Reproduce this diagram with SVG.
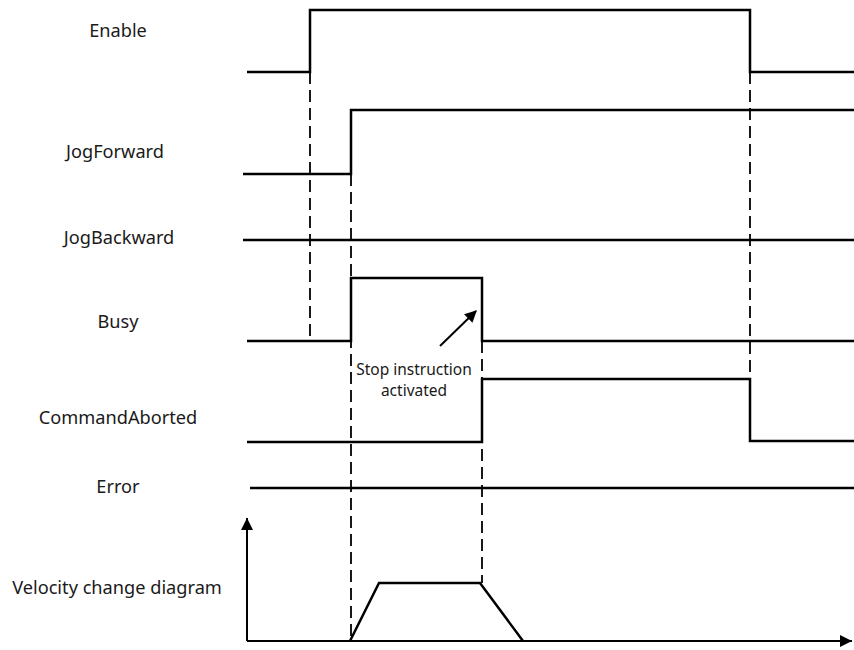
<svg xmlns="http://www.w3.org/2000/svg" width="854" height="650" viewBox="0 0 854 650">
<style>
.lbl{font-family:"Noto Sans","Open Sans",sans-serif;font-size:18.2px;fill:#1a1a1a;text-anchor:middle}
.note{font-family:"Noto Sans","Open Sans",sans-serif;font-size:15.5px;fill:#1a1a1a;text-anchor:middle}
.sig{fill:none;stroke:#000;stroke-width:2.5;stroke-linejoin:miter}
.dash{fill:none;stroke:#000;stroke-width:1.8;stroke-dasharray:12 6}
.ax{fill:none;stroke:#000;stroke-width:2}
</style>
<defs>
<marker id="ah" viewBox="0 0 10 10" refX="9" refY="5" markerWidth="14" markerHeight="12" markerUnits="userSpaceOnUse" orient="auto">
<path d="M0,0 L10,5 L0,10 z" fill="#000"/>
</marker>
<marker id="axh" viewBox="0 0 10 10" refX="10" refY="5" markerWidth="16" markerHeight="12" markerUnits="userSpaceOnUse" orient="auto">
<path d="M0,0 L10,5 L0,10 z" fill="#000"/>
</marker>
</defs>
<rect width="854" height="650" fill="#fff"/>
<g id="labels">
<text class="lbl" x="118" y="37">Enable</text>
<text class="lbl" x="115" y="158">JogForward</text>
<text class="lbl" x="119" y="244">JogBackward</text>
<text class="lbl" x="118" y="328">Busy</text>
<text class="lbl" x="118" y="424">CommandAborted</text>
<text class="lbl" x="118" y="493">Error</text>
<text class="lbl" x="117" y="594">Velocity change diagram</text>
</g>
<g id="signals">
<polyline id="enable" class="sig" points="247,72 310,72 310,10 750,10 750,72 854,72"/>
<polyline id="jogforward" class="sig" points="243,174 351,174 351,110 854,110"/>
<line id="jogbackward" class="sig" x1="243" y1="240" x2="854" y2="240"/>
<polyline id="busy" class="sig" points="247,341 351,341 351,278 482,278 482,341 854,341"/>
<polyline id="commandaborted" class="sig" points="247,442 482,442 482,379 750,379 750,441 854,441"/>
<line id="error" class="sig" x1="250" y1="488" x2="854" y2="488"/>
</g>
<g id="velocity">
<line class="ax" x1="247" y1="641" x2="247" y2="518" marker-end="url(#axh)"/>
<line class="ax" x1="247" y1="641" x2="852" y2="641" marker-end="url(#axh)"/>
<polyline class="sig" points="350,641 379,583 480,583 523,641"/>
</g>
<g id="connectors">
<line class="dash" x1="310" y1="72" x2="310" y2="341"/>
<line class="dash" x1="351" y1="174" x2="351" y2="641"/>
<line class="dash" x1="482" y1="341" x2="482" y2="583"/>
<line class="dash" x1="750" y1="72" x2="750" y2="379"/>
<line stroke="#000" stroke-width="2" x1="440" y1="346" x2="476" y2="311" marker-end="url(#ah)"/>
</g>
<g id="note">
<text class="note" x="414" y="375">Stop instruction</text>
<text class="note" x="414" y="396">activated</text>
</g>
</svg>
